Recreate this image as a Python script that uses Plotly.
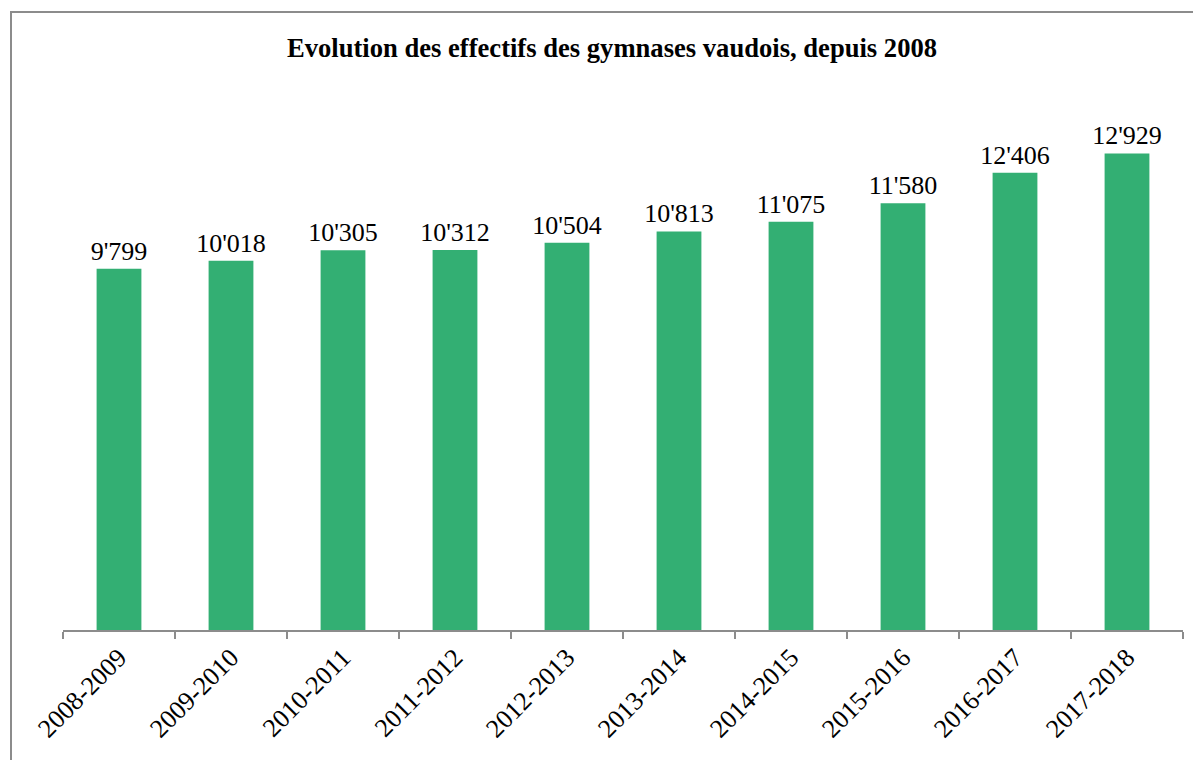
import plotly.graph_objects as go

categories = ["2008-2009", "2009-2010", "2010-2011", "2011-2012", "2012-2013",
              "2013-2014", "2014-2015", "2015-2016", "2016-2017", "2017-2018"]
values = [9799, 10018, 10305, 10312, 10504, 10813, 11075, 11580, 12406, 12929]
labels = [f"{v:,}".replace(",", "'") for v in values]

fig = go.Figure(go.Bar(
    x=categories, y=values, text=labels, textposition="outside",
    constraintext="none",
    textfont=dict(family="Liberation Serif", size=26, color="#000000"),
    marker=dict(color="#33AF73", line=dict(width=0)),
    cliponaxis=False,
))

fig.update_layout(
    width=1201, height=760,
    margin=dict(l=55, r=26, t=106, b=138),
    paper_bgcolor="white", plot_bgcolor="white",
    bargap=0.6,
    showlegend=False,
    title=dict(text="<b>Evolution des effectifs des gymnases vaudois, depuis 2008</b>",
               x=(612-8)/1201, xanchor="center", y=1-(48-8)/760, yanchor="middle",
               font=dict(family="Liberation Serif", size=26.6, color="#000000")),
    font=dict(family="Liberation Serif", color="#000000"),
    shapes=[dict(type="rect", xref="paper", yref="paper",
                 x0=(11-63)/1120, x1=(1230-63)/1120,
                 y0=(630-800)/516, y1=(630-12)/516,
                 line=dict(color="#8C8C8C", width=2), layer="below")],
)
fig.update_xaxes(
    type="category", tickangle=-45, tickson="boundaries",
    ticks="outside", ticklen=7, tickcolor="#8C8C8C", tickwidth=2,
    showline=True, linecolor="#8C8C8C", linewidth=2,
    showgrid=False, zeroline=False,
    tickfont=dict(family="Liberation Serif", size=26, color="#000000"),
)
fig.update_yaxes(visible=False, range=[0, 14000], showgrid=False, zeroline=False)

fig.write_html("out.html")
